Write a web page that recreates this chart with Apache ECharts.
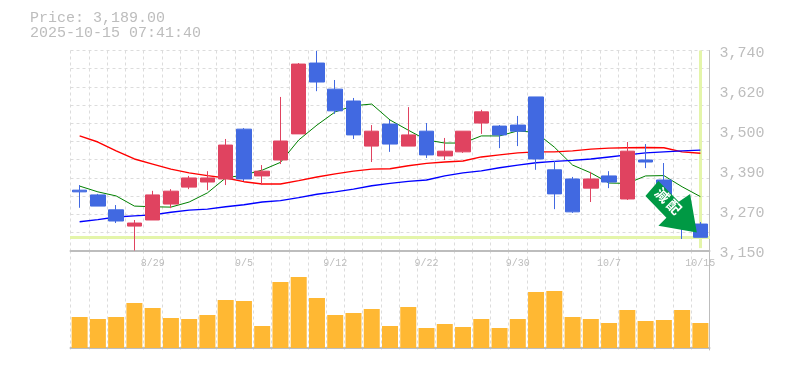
<!DOCTYPE html>
<html>
<head>
<meta charset="utf-8">
<style>html,body{margin:0;padding:0;background:#fff}#c{width:785px;height:370px}</style>
<script src="https://cdn.jsdelivr.net/npm/echarts@6/dist/echarts.min.js"></script>
</head>
<body>
<div id="c"></div>
<script>
const titleLines = ['Price: 3,189.00', '2025-10-15 07:41:40'];
const dates = ['8/25','8/26','8/27','8/28','8/29','9/1','9/2','9/3','9/4','9/5','9/8','9/9','9/10','9/11','9/12','9/16','9/17','9/18','9/19','9/22','9/24','9/25','9/26','9/29','9/30','10/1','10/2','10/3','10/6','10/7','10/8','10/9','10/10','10/14','10/15'];
const priceOpen  = [3328,3314,3270,3222,3240,3287,3337,3352,3361,3508,3370,3417,3494,3703,3626,3591,3458,3523,3458,3502,3429,3441,3526,3517,3520,3603,3388,3361,3334,3370,3302,3417,3358,3284,3228];
const priceClose = [3323,3281,3237,3231,3314,3325,3364,3364,3461,3361,3384,3473,3700,3647,3562,3491,3502,3464,3491,3432,3443,3502,3559,3491,3502,3420,3317,3264,3361,3352,3443,3411,3299,3225,3189];
const priceLow   = [3276,3281,3231,3150,3240,3275,3331,3328,3343,3355,3343,3405,3494,3620,3553,3479,3411,3441,3458,3423,3417,3438,3494,3452,3458,3388,3272,3261,3293,3334,3299,3393,3290,3184,3189];
const priceHigh  = [3343,3317,3284,3240,3326,3331,3370,3384,3479,3511,3402,3603,3703,3739,3653,3600,3520,3535,3573,3526,3482,3502,3565,3520,3547,3603,3414,3367,3382,3384,3470,3464,3408,3295,3234];
const maShort = [3340,3323,3311,3281,3279,3278,3293,3320,3364,3373,3387,3410,3476,3520,3559,3577,3582,3535,3505,3476,3467,3467,3488,3488,3503,3498,3455,3402,3379,3349,3348,3370,3371,3338,3309];
const maMid   = [3488,3470,3444,3420,3405,3390,3379,3371,3364,3353,3346,3346,3356,3367,3376,3384,3390,3391,3400,3407,3411,3414,3426,3432,3438,3441,3441,3444,3449,3452,3453,3454,3453,3441,3437];
const maLong  = [3235,3241,3249,3252,3255,3263,3269,3272,3279,3285,3293,3297,3306,3316,3323,3331,3341,3348,3354,3358,3370,3379,3385,3394,3402,3409,3413,3416,3420,3426,3432,3438,3441,3444,3446];
const volume  = [31,29,31,45,40,30,29,33,48,47,22,66,71,50,33,35,39,22,41,20,24,21,29,20,29,56,57,31,29,25,38,27,28,38,25];
const priceTicks = [3150,3268,3386,3504,3622,3740];
const lastPrice = 3189;
const badgeText = '減配';

const grey = '#bdbdbd', gridGrey = '#dcdcdc';
const mono = '"Liberation Mono", monospace';
const dash = {show:true, lineStyle:{color:gridGrey, type:[3,3], width:1}};
const last = dates.length - 1;
const candles = dates.map((d,i)=>[priceOpen[i],priceClose[i],priceLow[i],priceHigh[i]]);
const line = (name,data,color,width)=>({name,type:'line',data,symbol:'none',smooth:false,z:2,
  lineStyle:{color,width},itemStyle:{color},silent:true});

const chart = echarts.init(document.getElementById('c'),null,{renderer:'canvas'});
const maSeries = line('MA5',maShort,'#008000',1);
maSeries.markLine = {silent:true,symbol:'none',animation:false,z:1,label:{show:false},
  lineStyle:{color:'#e4f5aa',width:3,type:'solid'},
  data:[[{coord:[0,lastPrice],x:70},{coord:[last,lastPrice],x:710}],
        [{coord:[last,3740]},{coord:[last,3157]}]]};
chart.setOption({
  animation:false,
  backgroundColor:'#fff',
  title:titleLines.map((t,i)=>({text:t,left:30,top:11+i*15,padding:0,
    textStyle:{fontFamily:mono,fontSize:15,fontWeight:'normal',color:grey}})),
  grid:[{left:70.5,width:639,top:50.5,height:200},{left:70.5,width:639,top:250.5,height:99.5}],
  xAxis:[
    {type:'category',gridIndex:0,data:dates,boundaryGap:true,
     axisLine:{show:true,lineStyle:{color:grey,width:2}},axisTick:{show:false},
     splitLine:{...dash,interval:0},
     axisLabel:{interval:(i)=>i%5===4,margin:8,color:grey,fontFamily:mono,fontSize:10,hideOverlap:false}},
    {type:'category',gridIndex:1,data:dates,boundaryGap:true,
     axisLine:{show:true,lineStyle:{color:grey,width:2}},axisTick:{show:false},
     splitLine:{...dash,interval:0},axisLabel:{show:false}}
  ],
  yAxis:[
    {type:'value',gridIndex:0,position:'right',min:3150,max:3740,scale:true,
     axisLine:{show:true,lineStyle:{color:grey,width:1}},axisTick:{show:false},splitLine:{show:false},
     axisLabel:{customValues:priceTicks,margin:10,
       formatter:v=>'{s| }\n{a|'+(Math.round(v/10)*10).toLocaleString('en-US')+'}',
       rich:{a:{color:grey,fontFamily:mono,fontSize:15,height:15,lineHeight:15},
             s:{fontSize:1,height:6,lineHeight:6}}}},
    {type:'value',gridIndex:0,position:'left',min:0,max:11,interval:1,
     axisLine:{show:false},axisTick:{show:false},axisLabel:{show:false},splitLine:dash},
    {type:'value',gridIndex:1,position:'right',min:-2,max:97.5,
     axisLine:{show:true,lineStyle:{color:grey,width:1}},axisTick:{show:false},axisLabel:{show:false},splitLine:{show:false}}
  ],
  series:[
    maSeries,
    line('MA25',maMid,'#ff0000',1.4),
    line('MA75',maLong,'#0000ff',1.4),
    {type:'candlestick',name:'Price',xAxisIndex:0,yAxisIndex:0,data:candles,z:3,barWidth:15,silent:true,
     itemStyle:{color:'#e04360',borderColor:'#e04360',color0:'#4169e1',borderColor0:'#4169e1',borderWidth:1},
     markPoint:{silent:true,animation:false,z:6,
       data:[{coord:[last-1,3279],value:badgeText,symbolSize:[51.4,51.3],symbolOffset:[-11,0],
         symbol:'path://M0.0 15.0 L13.0 0.0 L33.4 20.7 L44.7 13.0 L51.4 51.3 L13.0 44.7 L21.0 36.7 Z',
         itemStyle:{color:'#009944'},
         label:{show:true,position:'inside',formatter:'{b|'+badgeText[0]+'}\u2009{b|'+badgeText[1]+'}',rotate:-45,offset:[-6,-2],
           rich:{b:{color:'#fff',fontSize:14,fontWeight:'bold',fontFamily:'"Noto Sans CJK JP"'}}}}]}},
    {type:'bar',name:'Volume',xAxisIndex:1,yAxisIndex:2,data:volume,barWidth:16,z:3,silent:true,
     itemStyle:{color:'#ffb833'}}
  ]
});
</script>
</body>
</html>
